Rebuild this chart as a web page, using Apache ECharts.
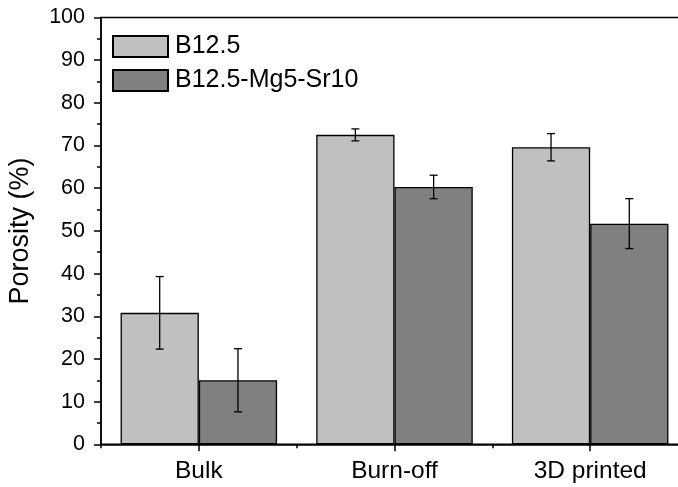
<!DOCTYPE html>
<html>
<head>
<meta charset="utf-8">
<script src="https://cdn.jsdelivr.net/npm/echarts@6/dist/echarts.min.js"></script>
<style>
html,body{margin:0;padding:0;background:#fff;overflow:hidden;width:678px;height:487px;}
#chart{width:700px;height:487px;}
</style>
</head>
<body>
<div id="chart"></div>
<script>
const categories = ['Bulk', 'Burn-off', '3D printed'];
const seriesNames = ['B12.5', 'B12.5-Mg5-Sr10'];
const valuesB = [30.8, 72.5, 69.6];
const errorsB = [8.5, 1.4, 3.2];
const valuesMg = [15.0, 60.3, 51.7];
const errorsMg = [7.4, 2.75, 5.85];
const yTicks = [0, 10, 20, 30, 40, 50, 60, 70, 80, 90, 100];
const colors = ['#C0C0C0', '#808080'];

const chart = echarts.init(document.getElementById('chart'), null, {renderer: 'canvas', width: 700, height: 487});
const FONT = 'Liberation Sans, Arial, sans-serif';

function errorSeries(vals, errs, offsetFrac) {
  return {
    type: 'custom',
    xAxisIndex: 0,
    yAxisIndex: 0,
    silent: true,
    z: 10,
    data: vals.map((v, i) => [i, v, errs[i]]),
    renderItem: function (params, api) {
      const ci = api.value(0);
      const v = api.value(1);
      const e = api.value(2);
      const band = api.size([1, 0])[0];
      const c = api.coord([ci, v]);
      const x = c[0] + band * offsetFrac;
      const yTop = api.coord([ci, v + e])[1];
      const yBot = api.coord([ci, v - e])[1];
      const cap = 4;
      const style = {stroke: '#000', lineWidth: 1.3};
      return {
        type: 'group',
        children: [
          {type: 'line', shape: {x1: x, y1: yTop, x2: x, y2: yBot}, style: style},
          {type: 'line', shape: {x1: x - cap, y1: yTop, x2: x + cap, y2: yTop}, style: style},
          {type: 'line', shape: {x1: x - cap, y1: yBot, x2: x + cap, y2: yBot}, style: style}
        ]
      };
    }
  };
}

const option = {
  animation: false,
  backgroundColor: '#fff',
  grid: {
    left: 101, top: 17.5, right: 12, bottom: 42.7,
    outerBoundsMode: 'none', containLabel: false,
    show: true, borderColor: '#000', borderWidth: 1.5, backgroundColor: 'transparent'
  },
  legend: {
    orient: 'vertical',
    left: 107, top: 29,
    itemWidth: 55, itemHeight: 21, itemGap: 9,
    icon: 'rect',
    data: seriesNames,
    textStyle: {fontFamily: FONT, fontSize: 25, color: '#000', padding: [0, 0, 0, 2]}
  },
  xAxis: [
    {
      type: 'category',
      data: categories,
      position: 'bottom',
      axisLine: {show: true, lineStyle: {color: '#000', width: 1.5}},
      axisTick: {show: true, alignWithLabel: true, inside: false, length: 7, lineStyle: {color: '#000', width: 1.5}},
      axisLabel: {fontFamily: FONT, fontSize: 24.5, color: '#000', margin: 14},
      splitLine: {show: false}
    },
    {
      type: 'category',
      data: categories,
      position: 'bottom',
      axisLine: {show: false},
      axisTick: {show: true, alignWithLabel: false, inside: false, length: 4, lineStyle: {color: '#000', width: 1.5}},
      axisLabel: {show: false},
      splitLine: {show: false}
    }
  ],
  yAxis: {
    type: 'value',
    min: 0, max: 100, interval: 10,
    name: 'Porosity (%)',
    nameLocation: 'middle',
    nameGap: 67,
    nameTextStyle: {fontFamily: FONT, fontSize: 27, color: '#000'},
    axisLine: {show: true, lineStyle: {color: '#000', width: 1.5}},
    axisTick: {show: true, inside: false, length: 7, lineStyle: {color: '#000', width: 1.5}},
    minorTick: {show: true, splitNumber: 2, length: 4, lineStyle: {color: '#000', width: 1.5}},
    axisLabel: {fontFamily: FONT, fontSize: 21.5, color: '#000', margin: 16,
      formatter: function (v) { return yTicks.indexOf(v) >= 0 ? String(v) : ''; }},
    splitLine: {show: false}
  },
  series: [
    {
      name: seriesNames[0], type: 'bar', data: valuesB,
      barGap: '0%', barCategoryGap: '20%',
      itemStyle: {color: colors[0], borderColor: '#000', borderWidth: 1.3}
    },
    {
      name: seriesNames[1], type: 'bar', data: valuesMg,
      barGap: '0%', barCategoryGap: '20%',
      itemStyle: {color: colors[1], borderColor: '#000', borderWidth: 1.3}
    },
    errorSeries(valuesB, errorsB, -0.2),
    errorSeries(valuesMg, errorsMg, 0.2)
  ]
};
chart.setOption(option);
</script>
</body>
</html>
